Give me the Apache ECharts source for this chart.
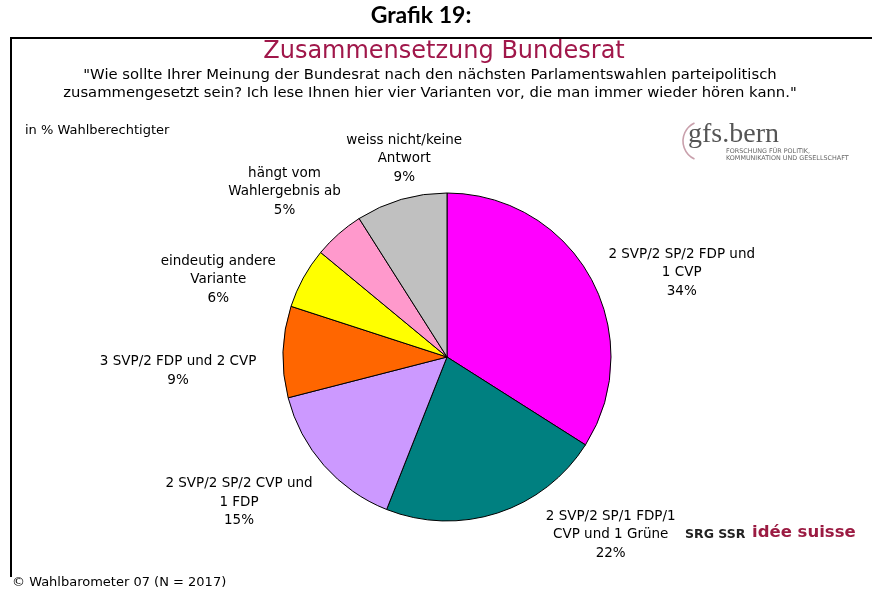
<!DOCTYPE html>
<html>
<head>
<meta charset="utf-8">
<script src="https://cdn.jsdelivr.net/npm/echarts@6/dist/echarts.min.js"></script>
<style>
    html, body { margin: 0; padding: 0; background: #fff; }
    #chart { width: 872px; height: 592px; }
</style>
</head>
<body>
<div id="chart"></div>
<script>
    // Zusammensetzung Bundesrat - Anteile in % Wahlberechtigter
    const categories = [
        '2 SVP/2 SP/2 FDP und\n1 CVP',
        '2 SVP/2 SP/1 FDP/1\nCVP und 1 Grüne',
        '2 SVP/2 SP/2 CVP und\n1 FDP',
        '3 SVP/2 FDP und 2 CVP',
        'eindeutig andere\nVariante',
        'hängt vom\nWahlergebnis ab',
        'weiss nicht/keine\nAntwort'
    ];
    const values = [34, 22, 15, 9, 6, 5, 9];
    const colors = ['#ff00ff', '#008080', '#cc99ff', '#ff6600', '#ffff00', '#ff99cc', '#c0c0c0'];

    // Verschiebung der Beschriftung (Mitte) vom Kreisrand aus, in px
    const labelShift = [[91, -5], [113, 22], [-85, 37], [-105, 19], [-85, 2], [-54, -42], [3, -41]];

    const cx = 447, cy = 357, r = 164;
    const font = 'DejaVu Sans';
    const total = values.reduce((a, b) => a + b, 0);

    // Mittelwinkel eines Segments (im Uhrzeigersinn ab 12 Uhr)
    function midAngle(i) {
        let cum = 0;
        for (let k = 0; k < i; k++) cum += values[k];
        return (cum + values[i] / 2) / total * Math.PI * 2;
    }

    const myEcharts = echarts.init(document.getElementById('chart'));
    myEcharts.setOption({
        animation: false,
        backgroundColor: '#fff',
        graphic: [
            { type: 'text', x: 421, y: 16, style: { text: 'Grafik 19:', font: 'bold 23px Lato', fill: '#000', align: 'center', verticalAlign: 'middle' } },
            { type: 'line', shape: { x1: 10, y1: 38, x2: 872, y2: 38 }, style: { stroke: '#000', lineWidth: 2 } },
            { type: 'line', shape: { x1: 11, y1: 38, x2: 11, y2: 577 }, style: { stroke: '#000', lineWidth: 2 } },
            { type: 'text', x: 444, y: 52, style: { text: 'Zusammensetzung Bundesrat', font: '24px "' + font + '"', fill: '#a0174a', align: 'center', verticalAlign: 'middle' } },
            { type: 'text', x: 430, y: 84, style: {
                text: '"Wie sollte Ihrer Meinung der Bundesrat nach den nächsten Parlamentswahlen parteipolitisch\nzusammengesetzt sein? Ich lese Ihnen hier vier Varianten vor, die man immer wieder hören kann."',
                font: '14.8px "' + font + '"', lineHeight: 18, fill: '#000', align: 'center', verticalAlign: 'middle' } },
            { type: 'text', x: 25, y: 131, style: { text: 'in % Wahlberechtigter', font: '13px "' + font + '"', fill: '#000', verticalAlign: 'middle' } },
            // gfs.bern
            { type: 'arc', shape: { cx: 703, cy: 141, r: 20, startAngle: Math.PI * 0.64, endAngle: Math.PI * 1.36 }, style: { stroke: '#c9a0ac', lineWidth: 1.6, fill: null } },
            { type: 'text', x: 688, y: 135, style: { text: 'gfs.bern', font: '28px "Liberation Serif"', fill: '#555', verticalAlign: 'middle' } },
            { type: 'text', x: 726, y: 155, style: { text: 'FORSCHUNG FÜR POLITIK,\nKOMMUNIKATION UND GESELLSCHAFT', font: '6.4px "' + font + '"', lineHeight: 7.5, fill: '#666', verticalAlign: 'middle' } },
            // SRG SSR idée suisse
            { type: 'text', x: 685, y: 535, style: { text: 'SRG SSR', font: 'bold 12.5px "' + font + '"', fill: '#222', verticalAlign: 'middle' } },
            { type: 'text', x: 752, y: 533, style: { text: 'idée suisse', font: 'bold 16.5px "' + font + '"', fill: '#9b1b42', verticalAlign: 'middle' } },
            { type: 'text', x: 12, y: 583, style: { text: '© Wahlbarometer 07 (N = 2017)', font: '13px "' + font + '"', fill: '#000', verticalAlign: 'middle' } }
        ],
        series: [{
            name: 'Zusammensetzung Bundesrat',
            type: 'pie',
            center: [cx, cy],
            radius: r,
            startAngle: 90,
            clockwise: true,
            silent: true,
            avoidLabelOverlap: false,
            data: categories.map((name, i) => ({
                name: name,
                value: values[i],
                itemStyle: { color: colors[i] }
            })),
            itemStyle: { borderColor: '#000', borderWidth: 1 },
            label: {
                show: true,
                position: 'outside',
                formatter: '{b}\n{c}%',
                fontFamily: font,
                fontSize: 13.5,
                lineHeight: 18.5,
                color: '#000'
            },
            labelLine: { show: false },
            labelLayout: function (params) {
                const i = params.dataIndex;
                const a = midAngle(i);
                return {
                    x: cx + r * Math.sin(a) + labelShift[i][0],
                    y: cy - r * Math.cos(a) + labelShift[i][1],
                    align: 'center',
                    verticalAlign: 'middle'
                };
            }
        }]
    });
</script>
</body>
</html>
